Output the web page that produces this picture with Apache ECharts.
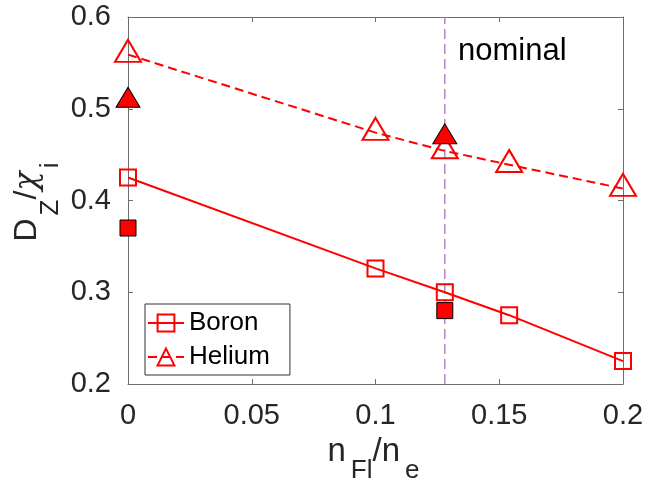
<!DOCTYPE html>
<html><head><meta charset="utf-8">
<script src="https://cdn.jsdelivr.net/npm/echarts@6/dist/echarts.min.js"></script>
<style>html,body{margin:0;padding:0;background:#fff}#c{width:665px;height:483px}</style>
</head><body><div id="c"></div>
<script>
// ---- data ----
const xTicks = [0, 0.05, 0.1, 0.15, 0.2];
const yTicks = [0.2, 0.3, 0.4, 0.5, 0.6];
const seriesNames = ['Boron', 'Helium'];
const boronX = [0, 0.1, 0.128, 0.154, 0.2];
const boronY = [0.425, 0.326, 0.300, 0.275, 0.225];
const heliumX = [0, 0.1, 0.128, 0.154, 0.2];
const heliumY = [0.559, 0.474, 0.454, 0.439, 0.413];
const boronFilledX = [0, 0.128];
const boronFilledY = [0.370, 0.280];
const heliumFilledX = [0, 0.128];
const heliumFilledY = [0.509, 0.469];
const nominalX = 0.128;
const nominalLabel = 'nominal';
// axis titles: [text, isSubscript, greek]
const xTitle = [['n', false], ['Fl', true], ['/n', false], ['e', true]];
const yTitle = [['D', false], ['Z', true], ['/', false], ['χ', false, true], ['i', true]];

const FF = '"Liberation Sans", Arial, Helvetica, sans-serif';
const GREEK_FF = '"DejaVu Serif", serif';
const axisCol = '#6e6e6e';
const textCol = '#262626';
const RED = '#ff0000';
const pairs = (xs, ys) => xs.map((x, i) => [x, ys[i]]);
const fmt = v => String(parseFloat(Number(v).toFixed(3)));

// layout constants
const G = {left: 128, right: 42, top: 17, bottom: 99, W: 665, H: 483};
const plotL = G.left, plotR = G.W - G.right;

const cv = document.createElement('canvas').getContext('2d');
function measure(t, size, greek) {
  cv.font = (greek ? 'italic ' : '') + size + 'px ' + (greek ? GREEK_FF : FF);
  return cv.measureText(t).width;
}

// Build a subscripted title as text elements along local x, main baseline at local y=0
function buildTitle(parts, mainSize, subSize, subShift, subGap) {
  const widths = parts.map(p => measure(p[0], p[1] ? subSize : mainSize, p[2]) + (p[1] ? subGap : 0));
  const total = widths.reduce((a, b) => a + b, 0);
  let x = -total / 2;
  const children = [];
  parts.forEach((p, i) => {
    const size = p[1] ? subSize : mainSize;
    const base = p[1] ? subShift : 0;
    children.push({
      type: 'text',
      x: x + (p[1] ? subGap : 0),
      y: base - 0.35 * size,
      style: {
        text: p[0], fontSize: size, fontFamily: p[2] ? GREEK_FF : FF,
        fontStyle: p[2] ? 'italic' : 'normal',
        fill: textCol, verticalAlign: 'middle', align: 'left'
      }
    });
    x += widths[i];
  });
  return children;
}

const chart = echarts.init(document.getElementById('c'), null, {renderer: 'canvas'});

const baseX = {
  type: 'value', gridIndex: 0,
  min: xTicks[0], max: xTicks[xTicks.length - 1], interval: xTicks[1] - xTicks[0],
  axisLine: {show: true, onZero: false, lineStyle: {color: axisCol, width: 1}},
  axisTick: {show: true, inside: true, length: 5, lineStyle: {color: axisCol}},
  splitLine: {show: false}
};
const baseY = {
  type: 'value', gridIndex: 0,
  min: yTicks[0], max: yTicks[yTicks.length - 1], interval: 0.1,
  axisLine: {show: true, onZero: false, lineStyle: {color: axisCol, width: 1}},
  axisTick: {show: true, inside: true, length: 5, lineStyle: {color: axisCol}},
  splitLine: {show: false}
};

const option = {
  animation: false,
  backgroundColor: '#fff',
  grid: {left: G.left, right: G.right, top: G.top, bottom: G.bottom},
  xAxis: [
    Object.assign({}, baseX, {
      position: 'bottom',
      axisLabel: {show: true, fontSize: 29, color: textCol, fontFamily: FF, margin: 17, formatter: fmt}
    }),
    Object.assign({}, baseX, {position: 'top', axisLabel: {show: false}})
  ],
  yAxis: [
    Object.assign({}, baseY, {
      position: 'left',
      axisLabel: {show: true, fontSize: 29, color: textCol, fontFamily: FF, margin: 17, formatter: v => Number(v).toFixed(1)}
    }),
    Object.assign({}, baseY, {position: 'right', axisLabel: {show: false}})
  ],
  legend: {
    orient: 'vertical', left: 145, top: 304,
    padding: [6, 20, 5, 2], itemGap: 8, itemWidth: 36, itemHeight: 21,
    backgroundColor: '#fff', borderColor: '#333', borderWidth: 1, borderRadius: 0,
    textStyle: {fontSize: 26, color: '#000', fontFamily: FF},
    data: seriesNames
  },
  series: [
    {
      name: 'nominalLine', type: 'line', data: [[nominalX, yTicks[0]], [nominalX, yTicks[yTicks.length - 1]]],
      symbol: 'none', silent: true, z: 1,
      lineStyle: {type: [10, 5], color: '#b283cf', width: 1.5}
    },
    {
      name: seriesNames[0], type: 'line', data: pairs(boronX, boronY), clip: false,
      symbol: 'rect', symbolSize: 16,
      lineStyle: {color: RED, width: 2, type: 'solid'},
      itemStyle: {color: 'rgba(255,0,0,0)', borderColor: RED, borderWidth: 2},
      z: 3
    },
    {
      name: seriesNames[1], type: 'line', data: pairs(heliumX, heliumY), clip: false,
      symbol: 'triangle', symbolSize: [26, 22], symbolOffset: [0, -3.7],
      lineStyle: {color: RED, width: 2, type: [9, 5]},
      itemStyle: {color: 'rgba(255,0,0,0)', borderColor: RED, borderWidth: 2},
      z: 3
    },
    {
      name: 'BoronFilled', type: 'scatter', data: pairs(boronFilledX, boronFilledY), clip: false,
      symbol: 'rect', symbolSize: 16,
      itemStyle: {color: RED, borderColor: '#000', borderWidth: 1, opacity: 1},
      z: 4
    },
    {
      name: 'HeliumFilled', type: 'scatter', data: pairs(heliumFilledX, heliumFilledY), clip: false,
      symbol: 'triangle', symbolSize: [24, 20], symbolOffset: [0, -3.3],
      itemStyle: {color: RED, borderColor: '#000', borderWidth: 1, opacity: 1},
      z: 4
    }
  ],
  graphic: [
    {
      type: 'text', left: 458, top: 36, z: 10,
      style: {text: nominalLabel, fontSize: 31, fontFamily: FF, fill: '#000'}
    },
    {
      type: 'group', x: (plotL + plotR) / 2 - 2, y: 463, z: 10,
      children: buildTitle(xTitle, 33, 26, 17, 5)
    },
    {
      type: 'group', x: 38.5, y: 202, rotation: Math.PI / 2, z: 10,
      children: buildTitle(yTitle, 32, 26, 21, 3)
    }
  ]
};
chart.setOption(option);
</script>
</body></html>
